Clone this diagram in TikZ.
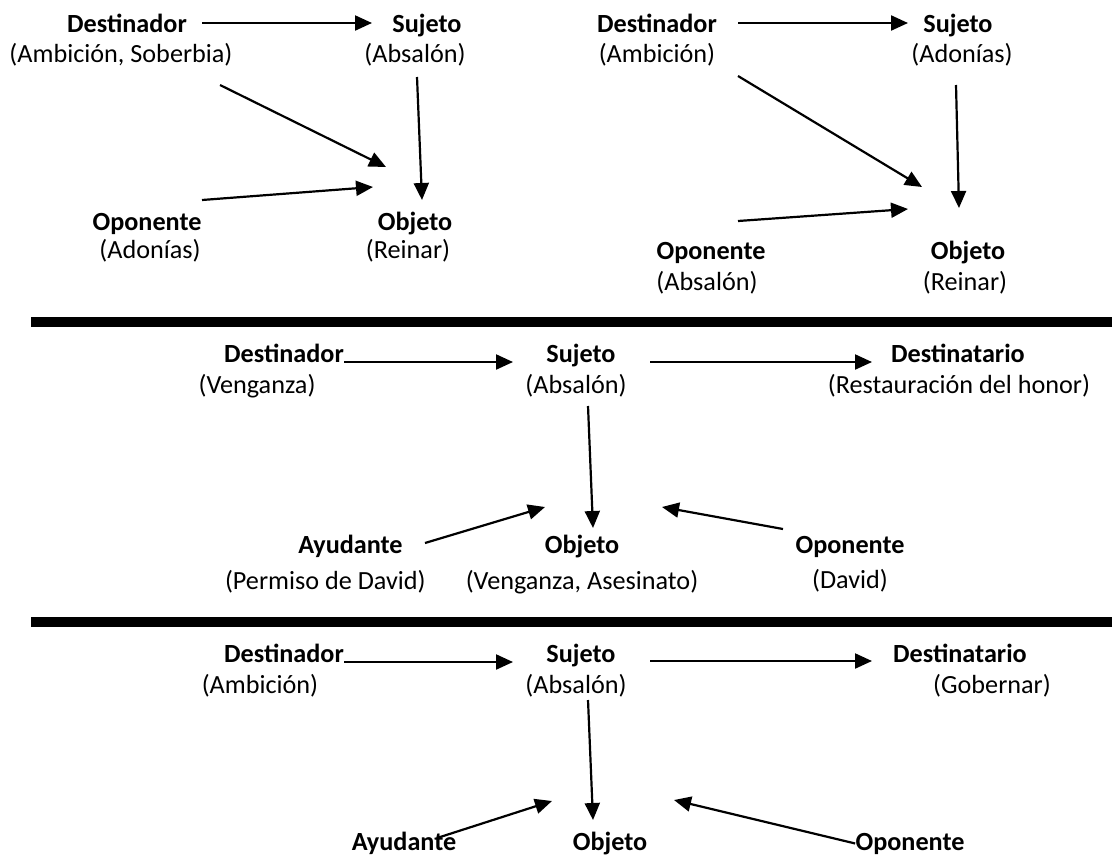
\documentclass[tikz,border=0pt]{standalone}
\usepackage{fontspec}
\setmainfont{Carlito}
\usetikzlibrary{arrows.meta}
\newcommand\lblsize{\fontsize{13.1}{16}\selectfont}
\tikzset{t/.style={anchor=base,inner sep=0pt,font=\lblsize\bfseries},p/.style={anchor=base,inner sep=0pt,font=\lblsize},arr/.style={-{Triangle[length=8.5pt,width=7.5pt]},line width=1.1pt},bar/.style={fill=black}}

\begin{document}
\begin{tikzpicture}[x=0.5pt,y=-0.5pt]
\useasboundingbox(0,0)rectangle(1112,857);
% Absalon
\node[t](d1)at(127,32){Destinador};\node[p](d1p)at(121,62){(Ambición, Soberbia)};
\node[t](s1)at(427,32){Sujeto};\node[p](s1p)at(415,62){(Absalón)};
\node[t](op1)at(147,230){Oponente};\node[p](op1p)at(150,258){(Adonías)};
\node[t](ob1)at(415,230){Objeto};\node[p](ob1p)at(408,258){(Reinar)};
\coordinate(d1r)at(202,23);\coordinate(s1l)at(372,23);\coordinate(s1b)at(417,77);\coordinate(ob1t)at(422,200);
\coordinate(d1b)at(220,85);\coordinate(ob1d)at(386,167);\coordinate(op1r)at(202,200);\coordinate(ob1l)at(373,187);
% Adonias
\node[t](d2)at(657,32){Destinador};\node[p](d2p)at(657,62){(Ambición)};
\node[t](s2)at(958,32){Sujeto};\node[p](s2p)at(962,62){(Adonías)};
\node[t](op2)at(711,259){Oponente};\node[p](op2p)at(707,290){(Absalón)};
\node[t](ob2)at(968,259){Objeto};\node[p](ob2p)at(965,290){(Reinar)};
\coordinate(d2r)at(738,23);\coordinate(s2l)at(908,23);\coordinate(s2b)at(956,85);\coordinate(ob2t)at(959,208);
\coordinate(d2b)at(738,76);\coordinate(ob2d)at(922,187);\coordinate(op2r)at(738,221);\coordinate(ob2l)at(908,209);
\fill[bar](31,317)rectangle(1112,327);
% venganza
\node[t](d3)at(284,362){Destinador};\node[p](d3p)at(257,393){(Venganza)};
\node[t](s3)at(581,362){Sujeto};\node[p](s3p)at(576,393){(Absalón)};
\node[t](dt3)at(958,362){Destinatario};\node[p](dt3p)at(959,393){(Restauración del honor)};
\node[t,anchor=base east](ay3)at(403,553){Ayudante};\node[p,anchor=base east](ay3p)at(426,589){(Permiso de David)};
\node[t](ob3)at(582,553){Objeto};\node[p](ob3p)at(582,589){(Venganza, Asesinato)};
\node[t](op3)at(850,553){Oponente};\node[p](op3p)at(850,588){(David)};
\coordinate(s3l)at(513,362);\coordinate(s3r)at(650,362);\coordinate(dt3l)at(872,362);\coordinate(s3b)at(588,406);\coordinate(ob3t)at(593,528);
\coordinate(ay3r)at(425,543);\coordinate(ob3l)at(545,507);\coordinate(op3l)at(783,529);\coordinate(ob3r)at(662,507);
\fill[bar](31,617)rectangle(1112,627);
% gobernar
\node[t](d4)at(284,662){Destinador};\node[p](d4p)at(260,693){(Ambición)};
\node[t](s4)at(581,662){Sujeto};\node[p](s4p)at(576,693){(Absalón)};
\node[t](dt4)at(960,662){Destinatario};\node[p](dt4p)at(992,693){(Gobernar)};
\node[t](ay4)at(404,850){Ayudante};\node[t](ob4)at(610,850){Objeto};\node[t](op4)at(910,850){Oponente};
\coordinate(s4l)at(513,662);\coordinate(s4r)at(650,661);\coordinate(dt4l)at(872,661);\coordinate(s4b)at(588,700);\coordinate(ob4t)at(593,820);
\coordinate(ay4r)at(437,838);\coordinate(ob4l)at(552,801);\coordinate(ob4r)at(674,800);
\foreach\a/\b in{d1r/s1l,s1b/ob1t,d1b/ob1d,op1r/ob1l,d2r/s2l,s2b/ob2t,d2b/ob2d,op2r/ob2l,d3.base east/s3l,s3r/dt3l,s3b/ob3t,ay3r/ob3l,op3l/ob3r,d4.base east/s4l,s4r/dt4l,s4b/ob4t,ay4r/ob4l,op4.west/ob4r}\draw[arr](\a)--(\b);
\end{tikzpicture}
\end{document}
